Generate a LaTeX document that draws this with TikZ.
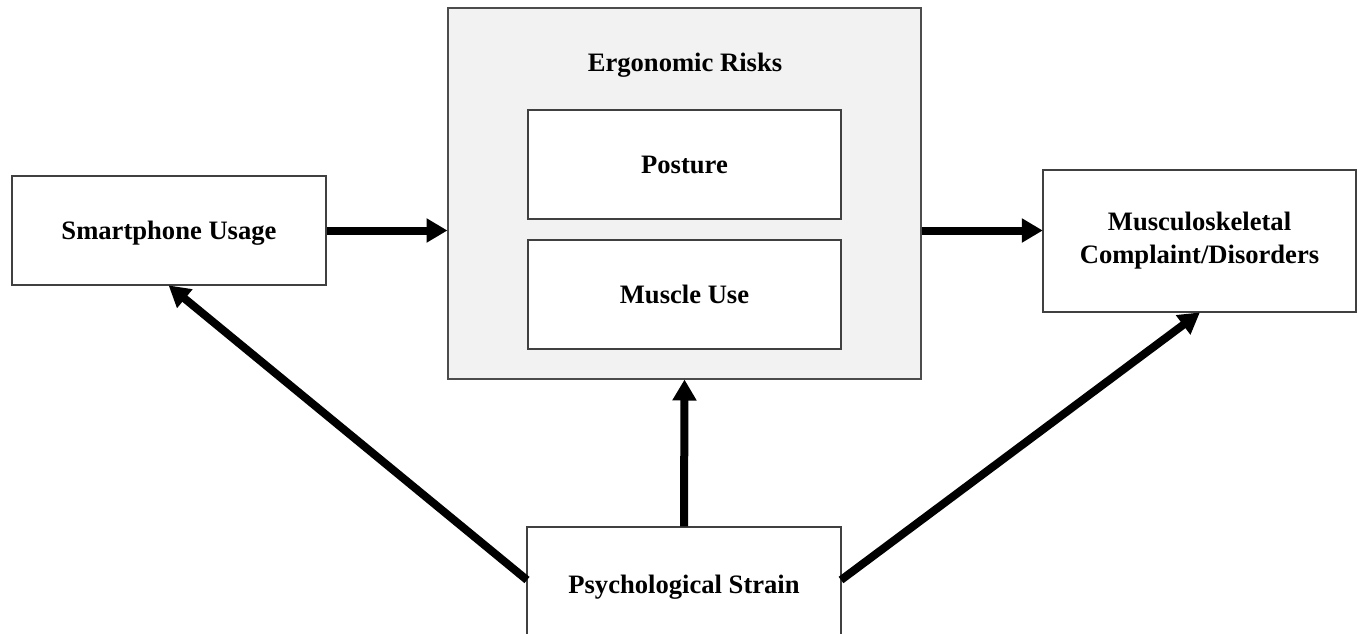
\documentclass[tikz,border=0pt]{standalone}
\usepackage{fontspec}
\setmainfont{Liberation Serif}
\usetikzlibrary{arrows.meta}
\begin{document}
\begin{tikzpicture}[x=1pt,y=-1pt,
  box/.style={draw=black!75,line width=1.4pt,fill=white,inner sep=0pt,
    font=\fontsize{26.6}{33}\selectfont\bfseries,align=center},
  one/.style={text height=18pt,text depth=0pt},
  bigbox/.style={draw=black!70,line width=2pt,fill=black!5,inner sep=0pt},
  arr/.style={line width=8pt,-{Triangle[length=21pt,width=23pt]},shorten >=-0.5pt}]
\useasboundingbox (0,0) rectangle (1359,634);
\node[bigbox,minimum width=473pt,minimum height=371pt] (big) at (684.5,193.5) {};
\node[font=\fontsize{26.6}{33}\selectfont\bfseries,one] (erg) at (685,62) {Ergonomic Risks};
\node[box,one,minimum width=313pt,minimum height=109pt] (pos) at (684.5,164.5) {Posture};
\node[box,one,minimum width=313pt,minimum height=109pt] (mus) at (684.5,294.5) {Muscle Use};
\node[box,one,minimum width=314pt,minimum height=109pt] (sm) at (169,230.5) {Smartphone Usage};
\node[box,minimum width=313pt,minimum height=142pt] (msk) at (1199.5,241) {Musculoskeletal\\Complaint/Disorders};
\node[box,one,minimum width=314pt,minimum height=114pt] (psy) at (684,584) {Psychological Strain};
\coordinate (pl) at (527,580);
\coordinate (pr) at (841,580);
\draw[arr] (sm.east |- 0,230.5) -- (big.west |- 0,230.5);
\draw[arr] (big.east |- 0,230.5) -- (msk.west |- 0,230.5);
\draw[arr] (psy.north) -- (big.south);
\draw[arr] (pl) -- (sm.south);
\draw[arr] (pr) -- (msk.south);
\end{tikzpicture}
\end{document}
